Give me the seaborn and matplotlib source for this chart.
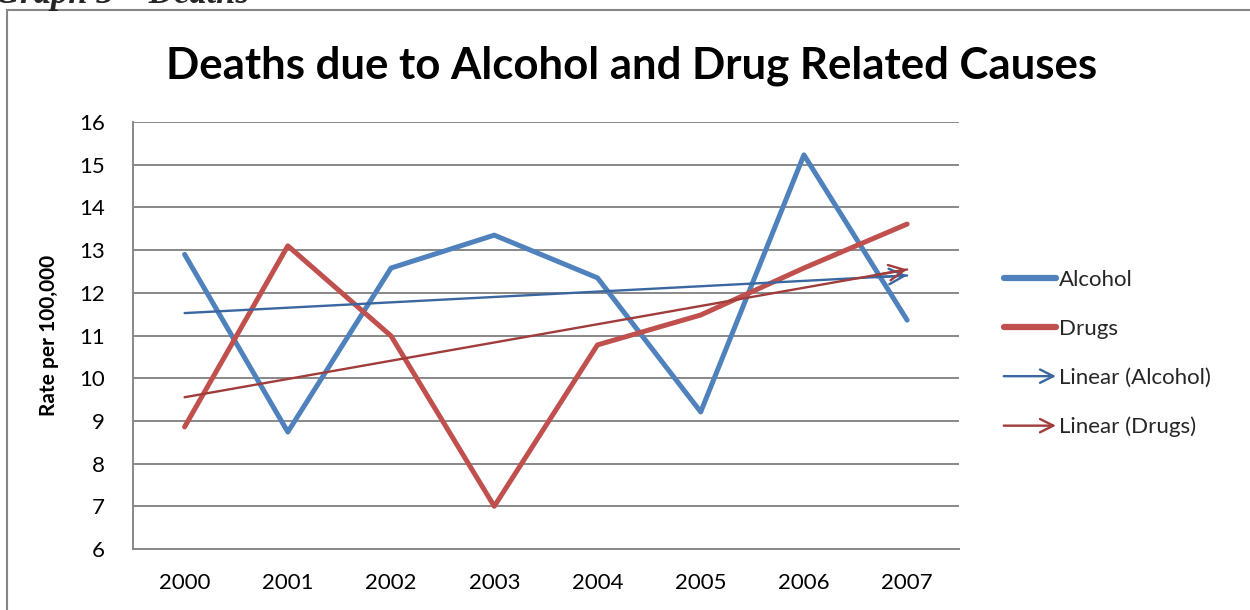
import numpy as np
import pandas as pd
import matplotlib
matplotlib.use("Agg")
import matplotlib.pyplot as plt
import seaborn as sns
from matplotlib.patches import Rectangle, FancyArrowPatch
from matplotlib.lines import Line2D
from matplotlib.legend_handler import HandlerBase

# data
years = [2000, 2001, 2002, 2003, 2004, 2005, 2006, 2007]
alcohol = [12.9, 8.74, 12.58, 13.35, 12.35, 9.21, 15.23, 11.36]
drugs = [8.86, 13.1, 10.99, 7.0, 10.78, 11.48, 12.58, 13.61]
series_names = ["Alcohol", "Drugs"]

blue = "#4F81BD"
red = "#C0504D"
blue_dark = "#3A67A0"
red_dark = "#A03C3A"
grid_col = "#888888"

df = pd.DataFrame({
    "Year": years * 2,
    "Rate": alcohol + drugs,
    "Series": [series_names[0]] * len(years) + [series_names[1]] * len(years),
})

sns.set_style("white")
plt.rcParams["font.family"] = ["Lato", "DejaVu Sans"]

fig = plt.figure(figsize=(12.5, 6.1), dpi=100)
ax = fig.add_axes([0.1064, 0.1, 0.6606, 0.7])

# outer chart frame and the clipped caption above it
fig.patches.append(Rectangle((7 / 1250, -0.01), 1.1, 1 - 10 / 610 + 0.01,
                             transform=fig.transFigure, fill=False,
                             edgecolor="#868686", lw=1.5))
fig.text(-0.004, 1 - 3 / 610, "Graph 3 \u2013 Deaths", fontsize=25,
         family="Liberation Serif", weight="bold", style="italic", va="baseline")

sns.lineplot(data=df, x="Year", y="Rate", hue="Series",
             palette={"Alcohol": blue, "Drugs": red}, lw=3.6,
             solid_capstyle="round", ax=ax, legend=False, zorder=3)

# linear trend lines with open arrowheads
for vals, col in [(alcohol, blue_dark), (drugs, red_dark)]:
    sns.regplot(x=np.array(years, dtype=float), y=np.array(vals), scatter=False,
                ci=None, truncate=True, color=col, line_kws={"lw": 1.7, "zorder": 4}, ax=ax)
    k, b = np.polyfit(years, vals, 1)
    x1 = years[-1]
    x0 = x1 - 0.3
    ax.annotate("", xy=(x1, k * x1 + b), xytext=(x0, k * x0 + b),
                arrowprops=dict(arrowstyle="->", color=col, lw=1.7,
                                mutation_scale=28, shrinkA=0, shrinkB=0),
                zorder=5)

ax.set_xlim(1999.5, 2007.5)
ax.set_ylim(6, 16)
ax.set_yticks(range(6, 17))
ax.set_xticks(years)
ax.set_xticklabels([str(y) for y in years])
ax.yaxis.grid(True, color=grid_col, lw=1.4)
ax.xaxis.grid(False)
ax.set_axisbelow(True)
for s in ["top", "right"]:
    ax.spines[s].set_visible(False)
for s in ["left", "bottom"]:
    ax.spines[s].set_color(grid_col)
    ax.spines[s].set_linewidth(1.4)
ax.tick_params(axis="both", length=0, labelsize=16, colors="black")
ax.tick_params(axis="y", pad=20)
ax.tick_params(axis="x", pad=17)
ax.set_xlabel("")
ax.set_ylabel("Rate per 100,000", fontsize=15, weight="bold", labelpad=15,
              color="black")

fig.text(0.505, 0.893, "Deaths due to Alcohol and Drug Related Causes",
         ha="center", va="center", fontsize=31.5, weight="bold", color="black")


class ArrowHandler(HandlerBase):
    def create_artists(self, legend, orig_handle, xdescent, ydescent,
                       width, height, fontsize, trans):
        y = height / 2 - ydescent
        arr = FancyArrowPatch((-xdescent, y), (width - xdescent, y),
                              arrowstyle="->", mutation_scale=24,
                              color=orig_handle.get_color(), lw=1.7,
                              shrinkA=0, shrinkB=0, transform=trans)
        return [arr]


handles = [
    Line2D([], [], color=blue, lw=4.5, solid_capstyle="round"),
    Line2D([], [], color=red, lw=4.5, solid_capstyle="round"),
    Line2D([], [], color=blue_dark, lw=1.7),
    Line2D([], [], color=red_dark, lw=1.7),
]
labels = ["Alcohol", "Drugs", "Linear (Alcohol)", "Linear (Drugs)"]
arrow_keys = handles[2:]
fig.legend(handles, labels, loc="center left", bbox_to_anchor=(0.787, 0.42),
           frameon=False, fontsize=16, handlelength=2.35, handletextpad=0.15,
           labelspacing=1.3,
           handler_map={h: ArrowHandler() for h in arrow_keys})

fig.savefig("out.png", dpi=100)
